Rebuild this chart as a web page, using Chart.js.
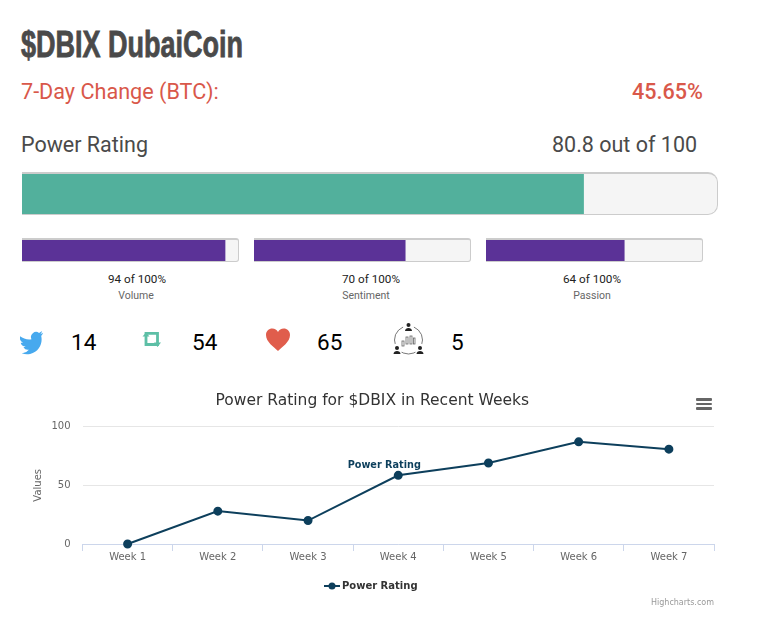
<!DOCTYPE html>
<html>
<head>
<meta charset="utf-8">
<title>$DBIX DubaiCoin</title>
<script src="https://cdn.jsdelivr.net/npm/chart.js@4/dist/chart.umd.min.js"></script>
<style>
  html, body { margin: 0; padding: 0; background: #fff; }
  body { position: relative; width: 768px; height: 629px; overflow: hidden; font-family: Roboto, sans-serif; }
  .txt { position: absolute; white-space: nowrap; line-height: 1; }
  .center { transform: translateX(-50%); }
  #coin-title { left: 21px; top: 24px; font: bold 37px "Liberation Sans", sans-serif; color: #4a4a4a; -webkit-text-stroke: 0.8px #4a4a4a; transform: scaleX(0.73); transform-origin: left top; }
  .change { top: 81px; font-size: 21.6px; color: #d9584a; }
  .rating { top: 134px; font-size: 21.5px; color: #4a4a4a; }
  .track { position: absolute; box-sizing: border-box; background: #f5f5f5; border: 1px solid #ccc; border-left: 0; border-top-width: 2px; overflow: hidden; }
  .track canvas { position: absolute; left: 0; top: 0; }
  .gauge-val { top: 274px; font-size: 11.7px; color: #222; }
  .gauge-name { top: 291px; font-size: 10.5px; color: #666; }
  .count { top: 331px; font-size: 22.5px; color: #000; }
  .icon { position: absolute; }
  #chart-box { position: absolute; left: 20px; top: 380px; width: 704px; height: 240px; }
  #credit { right: 54px; top: 598px; font: 8px "DejaVu Sans", sans-serif; color: #999; }
  .menu { position: absolute; left: 696px; width: 16px; height: 2.5px; background: #666; border-radius: 1px; }
</style>
</head>
<body>
<div class="txt" id="coin-title">$DBIX DubaiCoin</div>
<div class="txt change" style="left:21px">7-Day Change (BTC):</div>
<div class="txt change" style="left:632px;font-weight:500">45.65%</div>
<div class="txt rating" style="left:21px">Power Rating</div>
<div class="txt rating" id="rating-text" style="left:552px"></div>

<div class="track" style="left:22px;top:172px;width:696px;height:43px;border-radius:0 10px 10px 0">
  <canvas id="overall-bar"></canvas>
</div>
<div id="gauges"></div>
<div id="socials"></div>

<svg class="icon" style="left:20px;top:330px" width="25" height="26" viewBox="0 0 24 24">
  <path transform="rotate(-12 12 12)" fill="#47a9ee" d="M23.953 4.57a10 10 0 01-2.825.775 4.958 4.958 0 002.163-2.723c-.951.555-2.005.959-3.127 1.184a4.92 4.92 0 00-8.384 4.482C7.69 8.095 4.067 6.13 1.64 3.162a4.822 4.822 0 00-.666 2.475c0 1.71.87 3.213 2.188 4.096a4.904 4.904 0 01-2.228-.616v.06a4.923 4.923 0 003.946 4.827 4.996 4.996 0 01-2.212.085 4.936 4.936 0 004.604 3.417 9.867 9.867 0 01-6.102 2.105c-.39 0-.779-.023-1.17-.067a13.995 13.995 0 007.557 2.209c9.053 0 13.998-7.496 13.998-13.985 0-.21 0-.42-.015-.63A9.935 9.935 0 0024 4.59z"/>
</svg>
<svg class="icon" style="left:142px;top:331px" width="20" height="17" viewBox="0 0 20 17">
  <path fill="none" stroke="#5dbfa6" stroke-width="2.8" d="M4 4 V2.4 H15.5 V13.5 H4 V4"/>
  <path fill="#5dbfa6" d="M0.5 5.5 H7.5 L4 1.5 Z M12 11.5 H19 L15.5 16 Z"/>
</svg>
<svg class="icon" style="left:265px;top:328px" width="26" height="23" viewBox="0 0 26 23">
  <path fill="#e05d4c" d="M13 23 C9 19 1 14 1 7 C1 3 4 0.5 7.2 0.5 C9.8 0.5 12 2 13 4 C14 2 16.2 0.5 18.8 0.5 C22 0.5 25 3 25 7 C25 14 17 19 13 23 Z"/>
</svg>
<svg class="icon" style="left:392px;top:322px" width="34" height="34" viewBox="0 0 34 34" fill="#222">
  <circle cx="16.5" cy="18" r="14" fill="none" stroke="#555" stroke-width="0.8"/>
  <circle cx="16.5" cy="5" r="5.5" fill="#fff"/>
  <circle cx="5" cy="27" r="5.5" fill="#fff"/>
  <circle cx="28" cy="27" r="5.5" fill="#fff"/>
  <circle cx="16.5" cy="3" r="2"/><path d="M13 9 C13 5 20 5 20 9 Z"/>
  <circle cx="5" cy="26" r="2"/><path d="M1.5 32 C1.5 28 8.5 28 8.5 32 Z"/>
  <circle cx="28" cy="26" r="2"/><path d="M24.5 32 C24.5 28 31.5 28 31.5 32 Z"/>
  <g fill="none" stroke="#666" stroke-width="0.8">
    <rect x="10" y="19" width="2" height="5"/><rect x="14" y="15" width="2" height="7"/><rect x="18" y="14" width="2" height="8"/><rect x="21.5" y="16" width="1.5" height="6"/>
  </g>
</svg>

<div id="chart-box"><canvas id="power-chart"></canvas></div>
<div class="menu" style="top:398px"></div>
<div class="menu" style="top:402.5px"></div>
<div class="menu" style="top:407px"></div>
<div class="txt" id="credit">Highcharts.com</div>

<script>
// Data
const overallRating = 80.8;
const gaugeNames = ['Volume', 'Sentiment', 'Passion'];
const gaugeValues = [94, 70, 64];
const socialCounts = [14, 54, 65, 5];
const weeks = ['Week 1', 'Week 2', 'Week 3', 'Week 4', 'Week 5', 'Week 6', 'Week 7'];
const powerRatings = [0, 28, 20, 58.5, 69, 87, 80.8];
const yTicks = [0, 50, 100];

const NAVY = '#0d3f5c';
const AXIS_FONT = 'DejaVu Sans';

document.getElementById('rating-text').textContent = `${overallRating} out of 100`;

// Horizontal progress bar, the grey track sits behind the canvas
function drawMeter(canvas, name, value, color, width, height) {
  canvas.width = width;
  canvas.height = height;
  canvas.style.width = width + 'px';
  canvas.style.height = height + 'px';
  return new Chart(canvas, {
    type: 'bar',
    data: {
      labels: [name],
      datasets: [{ data: [value], backgroundColor: color, barPercentage: 1, categoryPercentage: 1 }]
    },
    options: {
      indexAxis: 'y',
      responsive: false,
      animation: false,
      layout: { padding: 0 },
      plugins: { legend: { display: false }, tooltip: { enabled: false } },
      scales: {
        x: { display: false, min: 0, max: 100 },
        y: { display: false }
      }
    }
  });
}

drawMeter(document.getElementById('overall-bar'), 'Power Rating', overallRating, '#52b09c', 695, 41);

// Small gauges
const gaugeLeft = [22, 254, 486];
const gaugeValueCenter = [137, 371, 592];
const gaugeNameCenter = [136, 366, 592];
const gaugeHost = document.getElementById('gauges');
gaugeNames.forEach((name, i) => {
  gaugeHost.insertAdjacentHTML('beforeend', `
    <div class="track" style="left:${gaugeLeft[i]}px;top:238px;width:217px;height:24px;border-radius:0 3px 3px 0">
      <canvas id="gauge-${i}" style="top:-2px"></canvas>
    </div>
    <div class="txt center gauge-val" style="left:${gaugeValueCenter[i]}px">${gaugeValues[i]} of 100%</div>
    <div class="txt center gauge-name" style="left:${gaugeNameCenter[i]}px">${name}</div>
  `);
});
gaugeNames.forEach((name, i) => {
  drawMeter(document.getElementById(`gauge-${i}`), name, gaugeValues[i], '#5b3297', 216, 23);
});

// Social counters
const socialLeft = [71, 192, 317, 451];
document.getElementById('socials').innerHTML = socialCounts
  .map((n, i) => `<div class="txt count" style="left:${socialLeft[i]}px">${n}</div>`)
  .join('');

// Legend symbol: short line with a dot on it
function legendSymbol() {
  const c = document.createElement('canvas');
  c.width = 16;
  c.height = 10;
  const g = c.getContext('2d');
  g.strokeStyle = NAVY;
  g.fillStyle = NAVY;
  g.lineWidth = 2;
  g.beginPath();
  g.moveTo(0, 5);
  g.lineTo(16, 5);
  g.stroke();
  g.beginPath();
  g.arc(8, 5, 3.5, 0, Math.PI * 2);
  g.fill();
  return c;
}

// Series name written next to the Week 4 point
const seriesLabel = {
  id: 'seriesLabel',
  afterDatasetsDraw(chart) {
    const { ctx, scales } = chart;
    const x = scales.x.getPixelForValue(3) - 14;
    const y = scales.y.getPixelForValue(powerRatings[3]) - 10;
    ctx.save();
    ctx.font = `bold 9.7px "${AXIS_FONT}"`;
    ctx.textAlign = 'center';
    ctx.textBaseline = 'middle';
    ctx.fillStyle = NAVY;
    ctx.fillText(chart.data.datasets[0].label, x, y);
    ctx.restore();
  }
};

new Chart(document.getElementById('power-chart'), {
  type: 'line',
  data: {
    labels: weeks,
    datasets: [{
      label: 'Power Rating',
      data: powerRatings,
      borderColor: NAVY,
      backgroundColor: NAVY,
      borderWidth: 2,
      pointRadius: 3.5,
      pointHoverRadius: 3.5,
      tension: 0,
      clip: false
    }]
  },
  plugins: [seriesLabel],
  options: {
    responsive: true,
    maintainAspectRatio: false,
    animation: false,
    layout: { padding: { left: 10.5, right: 10, top: 0, bottom: 19 } },
    plugins: {
      tooltip: { enabled: false },
      title: {
        display: true,
        text: 'Power Rating for $DBIX in Recent Weeks',
        color: '#333',
        font: { family: AXIS_FONT, size: 15.5, weight: 'normal' },
        padding: { top: 12, bottom: 16 }
      },
      legend: {
        position: 'bottom',
        labels: {
          usePointStyle: true,
          color: '#333',
          font: { family: AXIS_FONT, size: 10, weight: 'bold' },
          padding: 0,
          generateLabels: chart => [{
            text: chart.data.datasets[0].label,
            pointStyle: legendSymbol(),
            fontColor: '#333',
            datasetIndex: 0
          }]
        }
      }
    },
    scales: {
      x: {
        offset: true,
        grid: { offset: true, drawOnChartArea: false, tickLength: 7, tickColor: '#ccd6eb' },
        border: { color: '#ccd6eb' },
        ticks: { color: '#666', font: { family: AXIS_FONT, size: 10 }, padding: 0, maxRotation: 0 },
        afterFit(axis) { axis.height = 37; }
      },
      y: {
        min: 0,
        max: 100,
        afterBuildTicks(axis) { axis.ticks = yTicks.map(value => ({ value })); },
        afterFit(axis) { axis.width = 52; },
        border: { display: false },
        grid: { color: '#e6e6e6', drawTicks: false },
        ticks: { color: '#666', font: { family: AXIS_FONT, size: 10 }, padding: 12 },
        title: {
          display: true,
          text: 'Values',
          color: '#666',
          font: { family: AXIS_FONT, size: 10 },
          padding: { top: 2, bottom: 0 }
        }
      }
    }
  }
});
</script>
</body>
</html>
